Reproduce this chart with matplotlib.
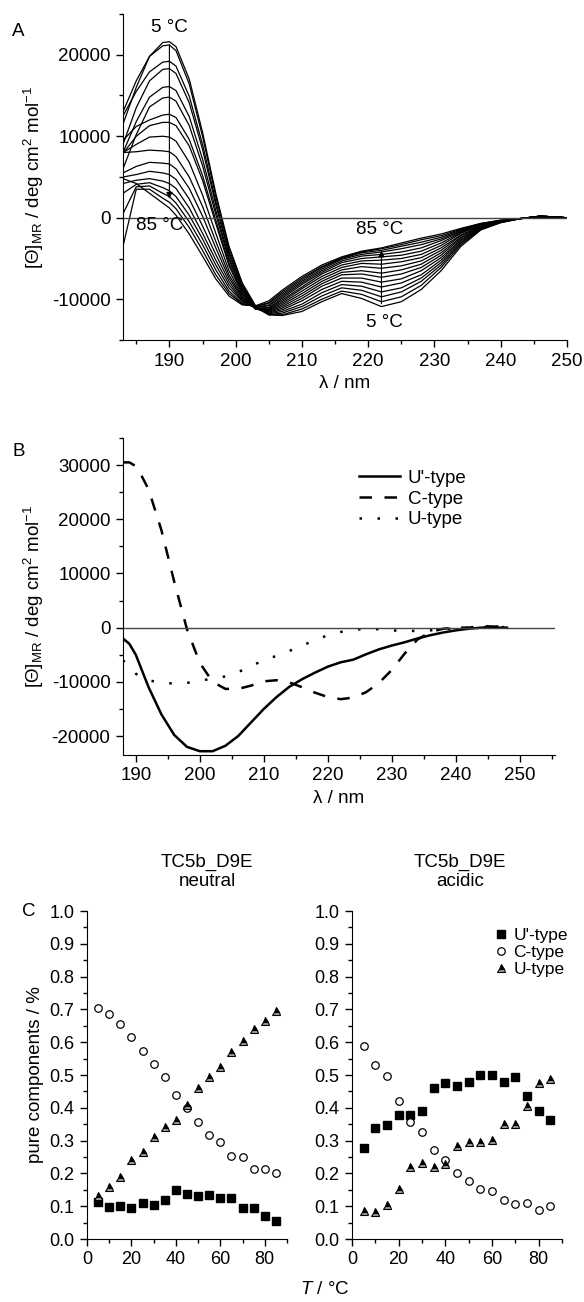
import numpy as np
import matplotlib
matplotlib.use("Agg")
from matplotlib import pyplot as plt
from matplotlib.ticker import MultipleLocator, FormatStrFormatter

plt.rcParams['font.family'] = ['Liberation Sans', 'DejaVu Sans']
plt.rcParams['mathtext.fontset'] = 'custom'
plt.rcParams['mathtext.rm'] = 'Liberation Sans'
plt.rcParams['mathtext.it'] = 'Liberation Sans:italic'
plt.rcParams['axes.unicode_minus'] = False
plt.rcParams['font.size'] = 13.5

# ---- panel A: CD spectra, 5..85 C ----
wl_a = [183, 185, 187, 189, 190, 191, 193, 195, 197, 199, 201, 203, 205, 207,
        210, 213, 216, 219, 222, 225, 228, 231, 234, 237, 240, 243, 246, 250]
temps_a = [5, 10, 15, 20, 25, 30, 35, 40, 45, 50, 55, 60, 65, 70, 75, 80, 85]
cd_a = [
    [11500, 16000, 19800, 21500, 21600, 21000, 17000, 10500, 3000, -3500, -8000, -10800, -11900, -12000, -11500, -10300, -9300, -9900, -10900, -10300, -8800, -6500, -3500, -1500, -600, -100, 200, 0],
    [13000, 16800, 19800, 21100, 21200, 20500, 16400, 10000, 2600, -3800, -8200, -10900, -11900, -11900, -11200, -10000, -9000, -9400, -10300, -9700, -8300, -6100, -3300, -1400, -600, -100, 200, 0],
    [12500, 15500, 17900, 19100, 19200, 18600, 14900, 9000, 2000, -4200, -8400, -11000, -11900, -11700, -10900, -9600, -8600, -8900, -9700, -9100, -7800, -5800, -3100, -1300, -500, -100, 200, 0],
    [9000, 13500, 16800, 18200, 18300, 17700, 14100, 8400, 1600, -4500, -8600, -11000, -11800, -11500, -10600, -9200, -8200, -8400, -9100, -8600, -7400, -5500, -3000, -1300, -500, -100, 200, 0],
    [8000, 11800, 14800, 16000, 16100, 15600, 12400, 7200, 900, -4900, -8800, -11100, -11700, -11300, -10200, -8800, -7800, -7900, -8500, -8000, -7000, -5200, -2800, -1200, -500, -100, 200, 0],
    [6000, 10200, 13600, 14700, 14800, 14300, 11300, 6400, 400, -5200, -9000, -11100, -11600, -11100, -9900, -8400, -7400, -7400, -7900, -7500, -6500, -4900, -2700, -1200, -500, -100, 200, 0],
    [9500, 11200, 12000, 12600, 12700, 12300, 9600, 5200, -300, -5600, -9200, -11200, -11500, -10900, -9600, -8100, -7000, -6900, -7300, -6900, -6100, -4600, -2500, -1100, -500, -100, 200, 0],
    [7900, 10000, 11300, 11700, 11700, 11300, 8800, 4600, -700, -5900, -9400, -11200, -11400, -10700, -9300, -7800, -6700, -6500, -6800, -6400, -5700, -4300, -2400, -1100, -500, -100, 200, 0],
    [8000, 9000, 9900, 10000, 9900, 9400, 6800, 2800, -1900, -6500, -9600, -11200, -11300, -10500, -9000, -7500, -6400, -6000, -6200, -5900, -5300, -4000, -2200, -1000, -400, -100, 150, 0],
    [8000, 8100, 8300, 8200, 8100, 7500, 5000, 1400, -2900, -7000, -9800, -11200, -11200, -10300, -8700, -7200, -6100, -5600, -5700, -5400, -4900, -3700, -2100, -1000, -400, -100, 150, 0],
    [5500, 6300, 6800, 6700, 6600, 6000, 3600, 200, -3700, -7400, -9900, -11100, -11100, -10100, -8500, -6900, -5800, -5300, -5200, -5000, -4500, -3400, -1900, -900, -400, -100, 150, 0],
    [5000, 5300, 5700, 5500, 5300, 4700, 2300, -1000, -4500, -7800, -10100, -11100, -11000, -9900, -8200, -6700, -5500, -5000, -4800, -4600, -4100, -3100, -1800, -900, -400, -100, 150, 0],
    [4200, 4600, 4800, 4500, 4200, 3600, 1200, -1900, -5200, -8200, -10200, -11000, -10800, -9700, -8000, -6500, -5300, -4700, -4500, -4200, -3700, -2800, -1700, -800, -400, -100, 150, 0],
    [3000, 4100, 4300, 3700, 3300, 2600, 300, -2600, -5800, -8600, -10300, -11000, -10700, -9500, -7800, -6300, -5100, -4500, -4200, -3800, -3300, -2600, -1600, -800, -400, -100, 150, 0],
    [500, 3800, 3900, 3000, 2600, 1800, -500, -3300, -6400, -9000, -10500, -10900, -10500, -9300, -7600, -6100, -5000, -4300, -4000, -3500, -3000, -2400, -1500, -800, -400, -100, 100, 0],
    [-3500, 3500, 3500, 2400, 1900, 1100, -1200, -4000, -7000, -9300, -10600, -10900, -10400, -9100, -7400, -6000, -4900, -4200, -3800, -3300, -2700, -2200, -1400, -700, -300, -100, 100, 0],
    [4800, 4200, 3000, 1800, 1200, 300, -2000, -4700, -7500, -9600, -10700, -10800, -10200, -8900, -7200, -5800, -4800, -4100, -3700, -3100, -2500, -2000, -1300, -700, -300, -100, 100, 0],
]

# ---- panel B: pure component spectra ----
wl_b = [188, 189, 190, 191, 192, 194, 196, 198, 200, 202, 204, 206, 208, 210,
        212, 214, 216, 218, 220, 222, 224, 226, 228, 230, 232, 234, 236, 238,
        240, 242, 244, 246, 248]
u_prime = [-2000, -3000, -5000, -8000, -11000, -16000, -19800, -22000, -22800, -22800,
           -21800, -20000, -17500, -15000, -12800, -10900, -9500, -8300, -7200, -6400,
           -5900, -4900, -4000, -3300, -2700, -2000, -1400, -900, -500, -200, 0, 0, 0]
c_type = [30500, 30500, 29800, 27800, 25500, 18000, 8500, -300, -6500, -10000, -11300,
          -11300, -10700, -9900, -9700, -10100, -11000, -12000, -12800, -13200, -12900,
          -11900, -10200, -7800, -4800, -2200, -800, -200, 0, 0, 300, 200, 300]
u_type = [-6000, -7400, -8500, -9200, -9700, -10200, -10300, -10200, -9800, -9400, -9000,
          -8200, -7100, -6000, -5200, -4300, -3300, -2300, -1400, -800, -400, -200, -300,
          -500, -600, -600, -500, -300, -100, 0, 100, 100, 100]

# ---- panel C: fractions of pure components ----
temps_c = [5, 10, 15, 20, 25, 30, 35, 40, 45, 50, 55, 60, 65, 70, 75, 80, 85]
neu_uprime = [0.112, 0.098, 0.102, 0.094, 0.109, 0.104, 0.118, 0.148, 0.136, 0.131,
              0.134, 0.125, 0.125, 0.095, 0.096, 0.069, 0.054]
neu_c = [0.705, 0.687, 0.654, 0.615, 0.573, 0.534, 0.493, 0.439, 0.400, 0.357,
         0.317, 0.297, 0.254, 0.249, 0.213, 0.213, 0.201]
neu_u = [0.130, 0.160, 0.190, 0.240, 0.265, 0.310, 0.340, 0.362, 0.410, 0.460,
         0.495, 0.525, 0.570, 0.605, 0.640, 0.665, 0.695]
aci_uprime = [0.277, 0.338, 0.347, 0.378, 0.378, 0.390, 0.460, 0.477, 0.466, 0.478,
              0.500, 0.500, 0.480, 0.493, 0.436, 0.390, 0.362]
aci_c = [0.588, 0.530, 0.497, 0.420, 0.357, 0.325, 0.270, 0.242, 0.202, 0.176,
         0.152, 0.146, 0.118, 0.107, 0.110, 0.087, 0.100]
aci_u = [0.085, 0.083, 0.105, 0.153, 0.218, 0.233, 0.220, 0.230, 0.285, 0.295,
         0.297, 0.302, 0.350, 0.350, 0.405, 0.475, 0.487]

W, H = 584, 1302
fig = plt.figure(figsize=(W / 100, H / 100), dpi=100)


def box(l, t, r, b):
    # pixel box -> figure fraction
    return [l / W, 1 - b / H, (r - l) / W, (b - t) / H]


def style(ax, fs=13.5):
    for s in ['top', 'right']:
        ax.spines[s].set_visible(False)
    ax.tick_params(direction='out', length=5, width=1, labelsize=fs, pad=4)
    ax.tick_params(which='minor', direction='out', length=3, width=1)


ylab = r'[Θ]$_\mathregular{MR}$ / deg cm$^\mathregular{2}$ mol$^\mathregular{-1}$'

# A
axA = fig.add_axes(box(123, 14, 567, 340))
for row in cd_a:
    axA.plot(wl_a, row, color='black', lw=0.9)
axA.axhline(0, color='#444444', lw=1)
axA.set_xlim(183, 250)
axA.set_ylim(-15000, 25000)
axA.xaxis.set_major_locator(MultipleLocator(10))
axA.xaxis.set_minor_locator(MultipleLocator(5))
axA.yaxis.set_major_locator(MultipleLocator(10000))
axA.yaxis.set_minor_locator(MultipleLocator(5000))
style(axA)
axA.set_xlabel('λ / nm')
axA.set_ylabel(ylab)
axA.annotate('', xy=(190, 2000), xytext=(190, cd_a[0][4]),
             arrowprops=dict(arrowstyle='-|>', color='black', lw=0.8, mutation_scale=9))
axA.annotate('', xy=(222, cd_a[-1][18]), xytext=(222, cd_a[0][18]),
             arrowprops=dict(arrowstyle='-|>', color='black', lw=0.8, mutation_scale=9))
axA.text(190, 23300, '5 °C', ha='center', va='center')
axA.text(188.6, -1000, '85 °C', ha='center', va='center')
axA.text(221.7, -1400, '85 °C', ha='center', va='center')
axA.text(222.5, -12800, '5 °C', ha='center', va='center')
fig.text(12 / W, 1 - 32 / H, 'A', ha='left', va='center')

# B
axB = fig.add_axes(box(123, 438, 555, 755))
axB.plot(wl_b, u_prime, color='black', lw=1.8, ls='-', label="U'-type")
axB.plot(wl_b, c_type, color='black', lw=1.8, ls=(0, (5, 5)), label='C-type')
axB.plot(wl_b, u_type, color='black', lw=1.8, ls=(0, (1, 6.2)), label='U-type')
axB.axhline(0, color='#444444', lw=1)
axB.set_xlim(188, 255.5)
axB.set_ylim(-23500, 35000)
axB.xaxis.set_major_locator(MultipleLocator(10))
axB.xaxis.set_minor_locator(MultipleLocator(5))
axB.yaxis.set_major_locator(MultipleLocator(10000))
axB.yaxis.set_minor_locator(MultipleLocator(5000))
style(axB)
axB.set_xlabel('λ / nm')
axB.set_ylabel(ylab)
axB.legend(loc='upper left', bbox_to_anchor=(0.525, 0.93), frameon=False,
           handlelength=2.2, handletextpad=0.4, labelspacing=0.2, borderpad=0)
fig.text(12 / W, 1 - 452 / H, 'B', ha='left', va='center')


# C
def frac_panel(ax, up, cc, uu):
    ax.plot(temps_c, up, ls='none', marker='s', ms=5.2, mfc='black', mec='black', label="U'-type")
    ax.plot(temps_c, cc, ls='none', marker='o', ms=5.4, mfc='white', mec='black', mew=0.9, label='C-type')
    ax.plot(temps_c, uu, ls='none', marker='^', ms=6, fillstyle='top', mfc='black',
            mfcalt='#9a9a9a', mec='black', mew=0.8, label='U-type')
    ax.set_xlim(0, 90)
    ax.set_ylim(0, 1.0)
    ax.xaxis.set_major_locator(MultipleLocator(20))
    ax.xaxis.set_minor_locator(MultipleLocator(10))
    ax.yaxis.set_major_locator(MultipleLocator(0.1))
    ax.yaxis.set_minor_locator(MultipleLocator(0.05))
    ax.yaxis.set_major_formatter(FormatStrFormatter('%.1f'))
    style(ax, 13)


axC1 = fig.add_axes(box(87, 911, 287, 1239))
frac_panel(axC1, neu_uprime, neu_c, neu_u)
axC1.set_ylabel('pure components / %')

axC2 = fig.add_axes(box(352, 911, 562, 1239))
frac_panel(axC2, aci_uprime, aci_c, aci_u)
axC2.legend(loc='upper left', bbox_to_anchor=(0.62, 0.975), frameon=False, fontsize=12.5,
            handletextpad=0.1, labelspacing=0.1, borderpad=0, handlelength=1.2)

fig.text(207 / W, 1 - 872 / H, 'TC5b_D9E\nneutral', ha='center', va='center', linespacing=1.2)
fig.text(460 / W, 1 - 872 / H, 'TC5b_D9E\nacidic', ha='center', va='center', linespacing=1.2)
fig.text(22 / W, 1 - 911 / H, 'C', ha='left', va='center')
fig.text(325 / W, 1 - 1290 / H, r'$\mathit{T}$ / °C', ha='center', va='center')

fig.savefig('out.png', dpi=100)
